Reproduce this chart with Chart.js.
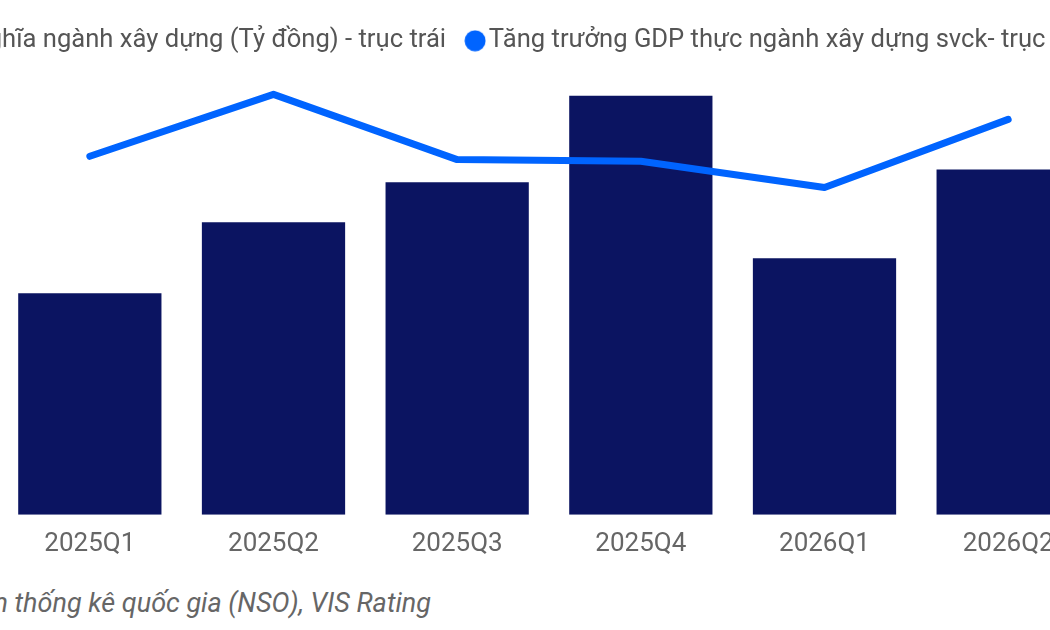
<!DOCTYPE html>
<html>
<head>
<meta charset="utf-8">
<script src="https://cdn.jsdelivr.net/npm/chart.js@4/dist/chart.umd.min.js"></script>
<style>
  html, body { margin: 0; padding: 0; background: #fff; }
  body { width: 1050px; height: 630px; overflow: hidden; position: relative; font-family: Roboto, sans-serif; }
  #wrap { position: absolute; left: -317px; top: 0; width: 1500px; height: 574px; }
  #source { position: absolute; right: 619px; top: 587px; font-size: 27px; font-style: italic; color: #666; white-space: nowrap; }
</style>
</head>
<body>
<div id="wrap"><canvas id="gdp-chart"></canvas></div>
<div id="source">Nguồn: Cơ quan thống kê quốc gia (NSO), VIS Rating</div>
<script>
// Data
const quarters = ["2025Q1", "2025Q2", "2025Q3", "2025Q4", "2026Q1", "2026Q2"];
const nominalGdp = [98200, 129700, 147400, 185800, 113700, 153100]; // Tỷ đồng
const realGrowth = [8.74, 10.25, 8.66, 8.62, 7.98, 9.64]; // % svck

const barColor = "#0b1461";
const lineColor = "#0064ff";

// small round marker for the legend
function dot(color) {
  const c = document.createElement("canvas");
  c.width = 22;
  c.height = 22;
  const g = c.getContext("2d");
  g.fillStyle = color;
  g.beginPath();
  g.arc(11, 11, 10.5, 0, Math.PI * 2);
  g.fill();
  return c;
}
const dots = [dot(barColor), dot(lineColor)];

const ctx = document.getElementById("gdp-chart").getContext("2d");
const gdpChart = new Chart(ctx, {
  type: "bar",
  data: {
    labels: quarters,
    datasets: [
      {
        label: "Giá trị GDP danh nghĩa ngành xây dựng (Tỷ đồng) - trục trái",
        data: nominalGdp,
        backgroundColor: barColor,
        categoryPercentage: 1,
        barPercentage: 0.78,
        yAxisID: "y",
        order: 1,
      },
      {
        type: "line",
        label: "Tăng trưởng GDP thực ngành xây dựng svck- trục phải",
        data: realGrowth,
        borderColor: lineColor,
        backgroundColor: lineColor,
        borderWidth: 7,
        borderCapStyle: "round",
        borderJoinStyle: "round",
        pointRadius: 0,
        tension: 0,
        yAxisID: "y1",
        order: 0,
      },
    ],
  },
  options: {
    responsive: true,
    maintainAspectRatio: false,
    animation: false,
    layout: { padding: { top: 0, left: 0, right: 0, bottom: 0 } },
    plugins: {
      legend: {
        position: "top",
        labels: {
          usePointStyle: true,
          boxWidth: 2,
          boxHeight: 2,
          padding: 28,
          color: "#555",
          font: { family: "Roboto", size: 25.6 },
          sort: (a, b) => a.datasetIndex - b.datasetIndex,
          generateLabels: function (chart) {
            return Chart.defaults.plugins.legend.labels.generateLabels(chart).map((item) => {
              item.pointStyle = dots[item.datasetIndex];
              item.lineWidth = 0;
              return item;
            });
          },
        },
      },
      tooltip: { enabled: false },
    },
    scales: {
      x: {
        grid: { display: false, drawTicks: false },
        border: { display: false },
        ticks: {
          color: "#666",
          padding: 14,
          font: { family: "Roboto", size: 26 },
        },
      },
      y: {
        position: "left",
        min: 0,
        max: 200000,
        grid: { display: false, drawTicks: false },
        border: { display: false },
        ticks: { display: false },
        afterFit: function (scale) {
          scale.width = 315;
        },
      },
      y1: {
        position: "right",
        min: 0,
        max: 11,
        grid: { display: false, drawTicks: false },
        border: { display: false },
        ticks: { display: false },
        afterFit: function (scale) {
          scale.width = 83;
        },
      },
    },
  },
});
</script>
</body>
</html>
